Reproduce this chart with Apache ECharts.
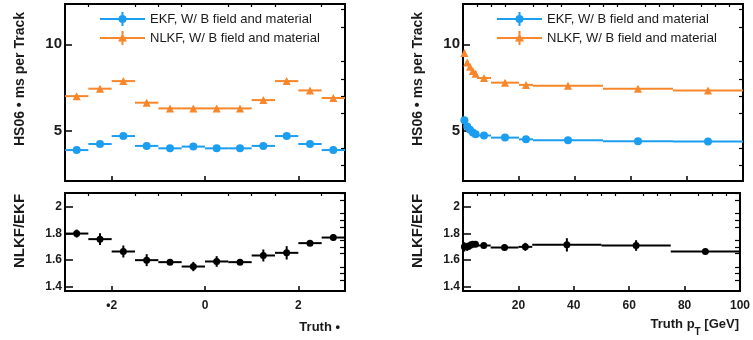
<!DOCTYPE html>
<html>
<head>
<meta charset="utf-8">
<script src="https://cdn.jsdelivr.net/npm/echarts@6/dist/echarts.min.js"></script>
<style>
  html, body { margin: 0; padding: 0; background: #fff; }
  #chart { width: 753px; height: 340px; }
</style>
</head>
<body>
<div id="chart"></div>
<script>
// ---- data ----
var etaEdges = [-3, -2.5, -2, -1.5, -1, -0.5, 0, 0.5, 1, 1.5, 2, 2.5, 3];
var ekfEta = [3.88, 4.23, 4.69, 4.12, 3.98, 4.08, 3.98, 3.98, 4.12, 4.69, 4.23, 3.88];
var ekfEtaErr = [0.08, 0.08, 0.1, 0.08, 0.08, 0.08, 0.08, 0.08, 0.08, 0.1, 0.08, 0.08];
var nlkfEta = [7.0, 7.43, 7.87, 6.62, 6.29, 6.29, 6.29, 6.29, 6.77, 7.87, 7.33, 6.89];
var nlkfEtaErr = [0.12, 0.12, 0.12, 0.12, 0.1, 0.1, 0.1, 0.1, 0.12, 0.12, 0.12, 0.12];
var ratioEta = [1.80, 1.758, 1.665, 1.60, 1.585, 1.552, 1.59, 1.585, 1.635, 1.655, 1.728, 1.77];
var ratioEtaErr = [0.03, 0.045, 0.045, 0.045, 0.012, 0.035, 0.04, 0.012, 0.045, 0.05, 0.012, 0.025];

var ptEdges = [0, 1, 2, 3, 4, 5, 10, 20, 25, 50, 75, 100];
var ekfPt = [5.6, 5.25, 5.05, 4.9, 4.8, 4.72, 4.6, 4.5, 4.45, 4.39, 4.37];
var ekfPtErr = [0.1, 0.08, 0.08, 0.08, 0.08, 0.08, 0.08, 0.08, 0.08, 0.08, 0.08];
var nlkfPt = [9.5, 8.95, 8.7, 8.45, 8.3, 8.05, 7.78, 7.65, 7.6, 7.43, 7.32];
var nlkfPtErr = [0.15, 0.12, 0.12, 0.12, 0.12, 0.12, 0.12, 0.12, 0.12, 0.12, 0.12];
var ratioPt = [1.70, 1.70, 1.71, 1.72, 1.72, 1.71, 1.695, 1.70, 1.715, 1.71, 1.665];
var ratioPtErr = [0.035, 0.03, 0.03, 0.02, 0.02, 0.02, 0.015, 0.03, 0.05, 0.04, 0.015];

// tick values
var etaMajor = [-2, 0, 2];
var etaMinor = [-2.5, -1.5, -1, -0.5, 0.5, 1, 1.5, 2.5];
var ptMajor = [20, 40, 60, 80, 100];
var ptMinor = [5, 10, 15, 25, 30, 35, 45, 50, 55, 65, 70, 75, 85, 90, 95];
var timeMajor = [5, 10];
var timeMinor = [3, 4, 6, 7, 8, 9, 11, 12];
var ratioMajor = [1.4, 1.6, 1.8, 2];
var ratioMinor = [1.45, 1.5, 1.55, 1.65, 1.7, 1.75, 1.85, 1.9, 1.95, 2.05, 2.1];

var EKF = 'EKF, W/ B field and material';
var NLKF = 'NLKF, W/ B field and material';
var BLUE = '#1c9ef0';
var ORANGE = '#f8862a';
var FONT = 'Liberation Sans, Arial, Helvetica, sans-serif';
var TXT = '#1a1a1a';

function bins(edges, vals, errs) {
  return vals.map(function (v, i) { return [edges[i], edges[i + 1], v, errs[i]]; });
}
function centers(edges, vals) {
  return vals.map(function (v, i) { return [(edges[i] + edges[i + 1]) / 2, v]; });
}

function errRender(params, api) {
  var x0 = api.value(0), x1 = api.value(1), y = api.value(2), e = api.value(3);
  var a = api.coord([x0, y]), b = api.coord([x1, y]);
  var xc = (x0 + x1) / 2;
  var t = api.coord([xc, y + e]), d = api.coord([xc, y - e]);
  var st = { stroke: api.visual('color'), lineWidth: 2 };
  return {
    type: 'group',
    children: [
      { type: 'line', shape: { x1: a[0], y1: a[1], x2: b[0], y2: b[1] }, style: st },
      { type: 'line', shape: { x1: t[0], y1: t[1], x2: d[0], y2: d[1] }, style: st }
    ]
  };
}

var grids = [
  { left: 65, top: 4, width: 280, height: 177 },
  { left: 65, top: 193, width: 280, height: 98 },
  { left: 463, top: 4, width: 280, height: 177 },
  { left: 463, top: 193, width: 280, height: 98 }
];
grids.forEach(function (g) { g.show = true; g.borderColor = '#000'; g.borderWidth = 2; });

function majorAxis(gi, min, max, ticks, tickLen, label) {
  return {
    type: 'value', gridIndex: gi, min: min, max: max,
    axisLine: { show: true, onZero: false, lineStyle: { color: '#000', width: 2 } },
    axisTick: { show: true, inside: true, length: tickLen, customValues: ticks, lineStyle: { color: '#000', width: 1.5 } },
    axisLabel: label ? Object.assign({ customValues: ticks }, label) : { show: false },
    splitLine: { show: false }
  };
}
function minorAxis(gi, min, max, ticks, tickLen) {
  return {
    type: 'value', gridIndex: gi, min: min, max: max,
    axisLine: { show: false, onZero: false },
    axisTick: { show: true, inside: true, length: tickLen, customValues: ticks, lineStyle: { color: '#000', width: 1.2 } },
    axisLabel: { show: false },
    splitLine: { show: false }
  };
}

var xLab = {
  show: true, margin: 9, fontSize: 12, fontWeight: 'bold', color: TXT, fontFamily: FONT,
  formatter: function (v) { return v < 0 ? '\u2022' + Math.abs(v) : String(v); }
};
var yTopLab = { show: true, margin: 3, fontSize: 15, fontWeight: 'bold', color: TXT, fontFamily: FONT };
var yRatLab = { show: true, margin: 3, fontSize: 12, fontWeight: 'bold', color: TXT, fontFamily: FONT };

var TMIN = 2.09, TMAX = 12.33, RMIN = 1.368, RMAX = 2.105;

var xAxes = [
  majorAxis(0, -3, 3, etaMajor, 5), minorAxis(0, -3, 3, etaMinor, 3),
  Object.assign(majorAxis(1, -3, 3, etaMajor, 5, xLab), {
    name: 'Truth \u2022', nameLocation: 'end', nameGap: -5,
    nameTextStyle: { align: 'right', verticalAlign: 'top', padding: [30, 0, 0, 0], fontSize: 13, fontWeight: 'bold', color: TXT, fontFamily: FONT }
  }),
  minorAxis(1, -3, 3, etaMinor, 3),
  majorAxis(2, 0, 100, ptMajor, 5), minorAxis(2, 0, 100, ptMinor, 3),
  Object.assign(majorAxis(3, 0, 100, ptMajor, 5, xLab), {
    name: 'Truth p{s|T} [GeV]', nameLocation: 'end', nameGap: -1,
    nameTextStyle: {
      align: 'right', verticalAlign: 'top', padding: [20, 0, 0, 0], fontSize: 13, fontWeight: 'bold', color: TXT, fontFamily: FONT,
      rich: { s: { fontSize: 10, fontWeight: 'bold', color: TXT, fontFamily: FONT, padding: [16, 0, 0, 0] } }
    }
  }),
  minorAxis(3, 0, 100, ptMinor, 3)
];

function yTitle(name, size, pad) {
  return {
    name: name, nameLocation: 'middle', nameGap: 38, nameRotate: 90,
    nameTextStyle: { fontSize: size, fontWeight: 'bold', color: TXT, fontFamily: FONT, padding: [0, 0, 0, pad] }
  };
}

var yAxes = [
  Object.assign(majorAxis(0, TMIN, TMAX, timeMajor, 7, yTopLab), yTitle('HS06 \u2022 ms per Track', 14, 27)),
  minorAxis(0, TMIN, TMAX, timeMinor, 4),
  Object.assign(majorAxis(1, RMIN, RMAX, ratioMajor, 8, yRatLab), yTitle('NLKF/EKF', 15, 22)),
  minorAxis(1, RMIN, RMAX, ratioMinor, 5),
  Object.assign(majorAxis(2, TMIN, TMAX, timeMajor, 7, yTopLab), yTitle('HS06 \u2022 ms per Track', 14, 27)),
  minorAxis(2, TMIN, TMAX, timeMinor, 4),
  Object.assign(majorAxis(3, RMIN, RMAX, ratioMajor, 8, yRatLab), yTitle('NLKF/EKF', 15, 22)),
  minorAxis(3, RMIN, RMAX, ratioMinor, 5)
];

function errSeries(name, gi, data, color) {
  return {
    type: 'custom', name: name, xAxisIndex: gi * 2, yAxisIndex: gi * 2,
    renderItem: errRender, encode: { x: [0, 1], y: 2 },
    itemStyle: { color: color }, data: data, z: 3
  };
}
function markSeries(name, gi, data, color, symbol, size) {
  return {
    type: 'scatter', name: name, xAxisIndex: gi * 2, yAxisIndex: gi * 2,
    symbol: symbol, symbolSize: size, itemStyle: { color: color, opacity: 1 },
    data: data, z: 4
  };
}

var series = [
  errSeries(EKF, 0, bins(etaEdges, ekfEta, ekfEtaErr), BLUE),
  markSeries(EKF, 0, centers(etaEdges, ekfEta), BLUE, 'circle', 8),
  errSeries(NLKF, 0, bins(etaEdges, nlkfEta, nlkfEtaErr), ORANGE),
  markSeries(NLKF, 0, centers(etaEdges, nlkfEta), ORANGE, 'triangle', 8),
  errSeries('ratioEta', 1, bins(etaEdges, ratioEta, ratioEtaErr), '#000'),
  markSeries('ratioEta', 1, centers(etaEdges, ratioEta), '#000', 'circle', 7),
  errSeries(EKF, 2, bins(ptEdges, ekfPt, ekfPtErr), BLUE),
  markSeries(EKF, 2, centers(ptEdges, ekfPt), BLUE, 'circle', 8),
  errSeries(NLKF, 2, bins(ptEdges, nlkfPt, nlkfPtErr), ORANGE),
  markSeries(NLKF, 2, centers(ptEdges, nlkfPt), ORANGE, 'triangle', 8),
  errSeries('ratioPt', 3, bins(ptEdges, ratioPt, ratioPtErr), '#000'),
  markSeries('ratioPt', 3, centers(ptEdges, ratioPt), '#000', 'circle', 7)
];

var iconEkf = 'path://M0,6H45V8H0Z M21.5,0H23.5V14H21.5Z M18.5,7a4,4 0 1,1 8,0a4,4 0 1,1 -8,0Z';
var iconNlkf = 'path://M0,6H45V8H0Z M21.5,0H23.5V14H21.5Z M22.5,2.5L27,10.5H18Z';

function legendAt(left) {
  return {
    left: left, top: 7, orient: 'vertical', itemWidth: 45, itemHeight: 14, itemGap: 5,
    selectedMode: false,
    data: [{ name: EKF, icon: iconEkf }, { name: NLKF, icon: iconNlkf }],
    textStyle: { fontSize: 13, color: TXT, fontFamily: FONT }
  };
}

var chart = echarts.init(document.getElementById('chart'));
chart.setOption({
  animation: false,
  backgroundColor: '#fff',
  grid: grids,
  xAxis: xAxes,
  yAxis: yAxes,
  legend: [legendAt(95), legendAt(492)],
  series: series
});
</script>
</body>
</html>
